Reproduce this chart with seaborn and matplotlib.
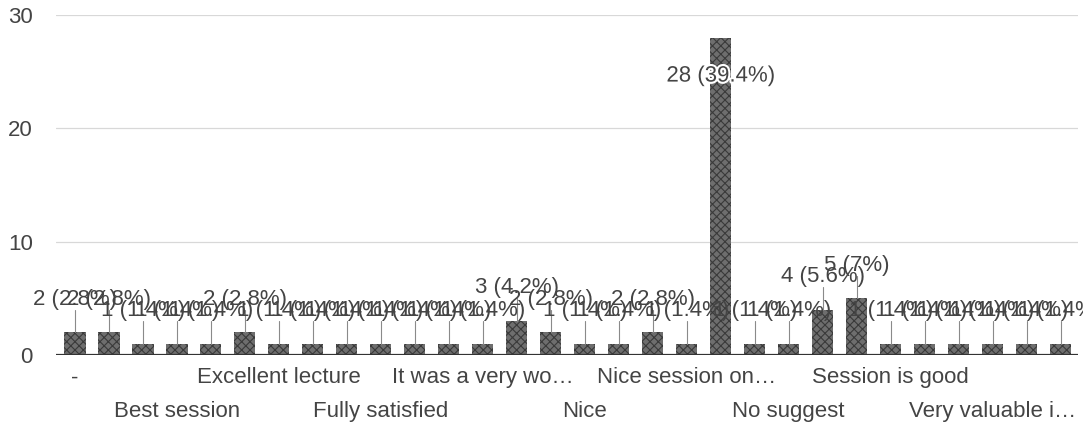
import pandas as pd
import numpy as np
import seaborn as sns
import matplotlib.pyplot as plt
import matplotlib.patheffects as pe

# responses in the order shown (alphabetical, as the form summary lists them)
counts = [2, 2, 1, 1, 1, 2, 1, 1, 1, 1, 1, 1, 1, 3, 2, 1, 1, 2, 1, 28,
          1, 1, 4, 5, 1, 1, 1, 1, 1, 1]
# only every third response name is printed under the axis
shown_labels = ["-", "Best session", "Excellent lecture", "Fully satisfied",
                "It was a very wo\u2026", "Nice", "Nice session on\u2026",
                "No suggest", "Session is good", "Very valuable i\u2026"]
yticks = [0, 10, 20, 30]

total = sum(counts)
df = pd.DataFrame({"pos": np.arange(len(counts)), "count": counts})
df["pct"] = df["count"] / total * 100

sns.set_style("white")
plt.rcParams['font.family'] = ['Liberation Sans', 'DejaVu Sans']
plt.rcParams['hatch.linewidth'] = 0.8

fig = plt.figure(figsize=(10.83, 4.25), dpi=100)
ax = fig.add_axes([0.052, 0.165, 0.943, 0.8])

sns.barplot(data=df, x="pos", y="count", color="#6e6e6e", width=0.62,
            saturation=1, ax=ax, zorder=3)
for bar in ax.patches:
    bar.set_hatch("xxxx")
    bar.set_edgecolor("#3a3a3a")
    bar.set_linewidth(0)

# value labels with little stems, like the google forms chart
for i, row in df.iterrows():
    p = f"{row['pct']:.1f}".rstrip("0").rstrip(".")
    txt = f"{int(row['count'])} ({p}%)"
    if row["count"] > 25:
        t = ax.text(i, row["count"] - 3.4, txt, ha="center", va="center",
                    fontsize=16, color="#444444", zorder=5)
        t.set_path_effects([pe.withStroke(linewidth=3, foreground="white")])
    else:
        ax.plot([i, i], [row["count"], row["count"] + 2.0], color="#8a8a8a",
                lw=0.8, zorder=4)
        ax.text(i, row["count"] + 2.0, txt, ha="center", va="bottom",
                fontsize=16, color="#444444", zorder=5)

ax.set_xlim(-0.55, 29.5)
ax.set_ylim(0, 30)
ax.set_yticks(yticks)
ax.set_yticklabels([str(v) for v in yticks], fontsize=16, color="#444444")
ax.yaxis.grid(True, color="#d8d8d8", lw=0.9, zorder=0)
ax.axhline(0, color="#333333", lw=1.6, zorder=4)

# two rows of response names, alternating
ax.set_xticks(np.arange(0, 30, 6))
ax.set_xticklabels(shown_labels[0::2], fontsize=16, color="#444444")
ax.set_xticks(np.arange(3, 30, 6), minor=True)
ax.set_xticklabels(shown_labels[1::2], minor=True, fontsize=16, color="#444444")
ax.tick_params(axis="x", which="major", length=0, pad=9)
ax.tick_params(axis="x", which="minor", length=0, pad=33)
ax.tick_params(axis="y", length=0, pad=17)
ax.set_xlabel("")
ax.set_ylabel("")
sns.despine(left=True, bottom=True)

fig.savefig("out.png", dpi=100)
